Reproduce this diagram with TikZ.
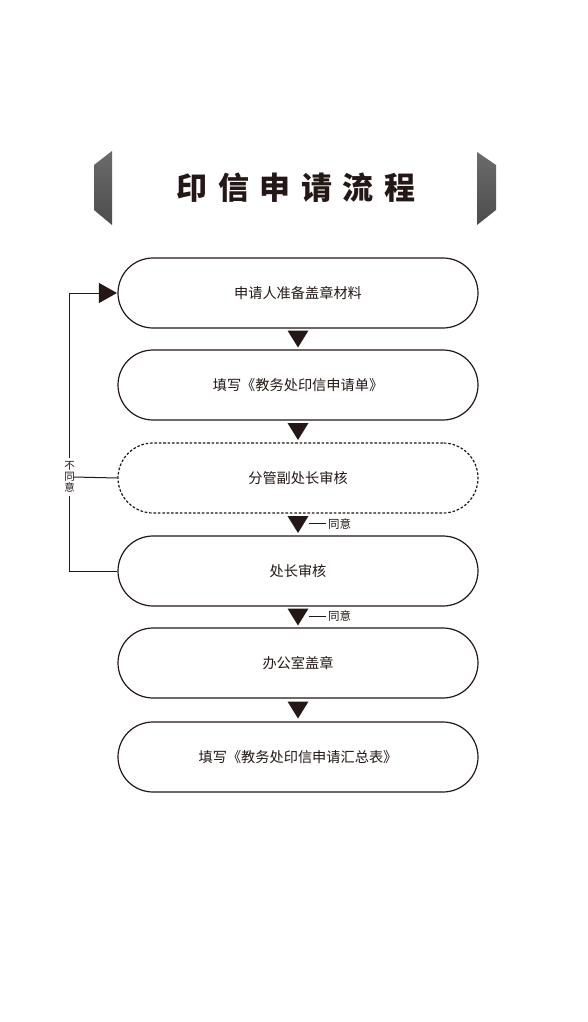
\documentclass[tikz,border=0pt]{standalone}
\usepackage{fontspec}
\newfontfamily\cjk{Noto Sans CJK SC}
\usetikzlibrary{arrows.meta,calc}
\definecolor{ink}{HTML}{231815}
\begin{document}
\begin{tikzpicture}[x=1pt,y=-1pt,
  box/.style={draw=ink,line width=1.2pt,rounded corners=35pt,minimum width=360pt,minimum height=70pt,inner sep=0pt,font=\cjk\fontsize{14.2}{16}\selectfont,text=ink},
  dbox/.style={box,dash pattern=on 2.6pt off 1.8pt},
  loopline/.style={draw=ink,line width=1pt},
  small/.style={font=\cjk\fontsize{11.5}{11.5}\selectfont,text=ink,inner sep=0pt},
  deco/.style={top color=black!58,bottom color=black!70,draw=none}]
\useasboundingbox (0,0) rectangle (588,1022);
\fill[white] (0,0) rectangle (588,1022);
% decorations
\shade[deco] (94,165) -- (112,151) -- (112,225) -- (94,210) -- cycle;
\shade[deco] (477,152) -- (496,165) -- (496,210) -- (477,225) -- cycle;
% title
\node[inner sep=0pt,text=ink,font=\cjk\bfseries\fontsize{31}{31}\selectfont] (title) at (296,188) {印\hspace{10.6pt}信\hspace{10.6pt}申\hspace{10.6pt}请\hspace{10.6pt}流\hspace{10.6pt}程};
% boxes
\node[box] (b1) at (298,293) {申请人准备盖章材料};
\node[box] (b2) at (298,385) {填写《教务处印信申请单》};
\node[dbox] (b3) at (298,478) {分管副处长审核};
\node[box] (b4) at (298,571) {处长审核};
\node[box] (b5) at (298,663) {办公室盖章};
\node[box] (b6) at (298,757) {填写《教务处印信申请汇总表》};
% down triangles
\foreach \a/\b in {b1/b2,b2/b3,b3/b4,b4/b5,b5/b6}{
  \coordinate (m\a) at ($(\a.south)!0.5!(\b.north)$);
  \fill[ink] ($(m\a)+(-10.5,-8.5)$) -- ($(m\a)+(10.5,-8.5)$) -- ($(m\a)+(0,8.5)$) -- cycle;
}
% agree labels
\node[small,anchor=west] (ok1) at ($(mb3)+(30,-0.5)$) {同意};
\node[small,anchor=west] (ok2) at ($(mb4)+(30,-0.5)$) {同意};
\draw[ink,line width=1pt] ($(mb3)+(11,-1)$) -- ($(ok1.west)+(-2,-0.5)$);
\draw[ink,line width=1pt] ($(mb4)+(11,-1)$) -- ($(ok2.west)+(-2,-0.5)$);
% disagree loop
\node[small,align=center,font=\cjk\fontsize{10.5}{11.2}\selectfont,inner sep=3.5pt] (no) at (69.5,477) {不\\同\\意};
\coordinate (loopR) at (73,477);
\draw[loopline] (b4.west) -| (no.south);
\draw[loopline] (loopR) -- (b3.west);
\draw[loopline,-{Triangle[length=18pt,width=20pt]}] (no.north) |- ($(b1.west)+(-0.5,0)$);
\end{tikzpicture}
\end{document}
